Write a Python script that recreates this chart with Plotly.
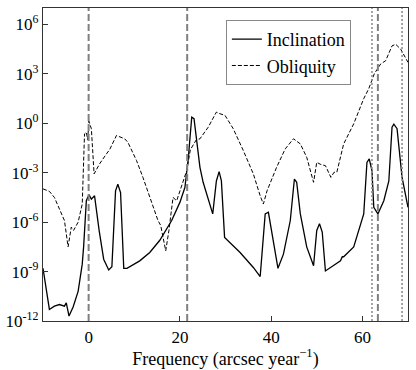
import numpy as np
import plotly.graph_objects as go

# frequencies (arcsec/yr) and log10 of spectral power
inc_freq = [-10, -8.6, -7.5, -6.4, -5.3, -4.9, -4.3, -3.4, -2.3, -1.4, -1.1, -0.5, 0.07, 0.6,
            1.3, 2.3, 3.3, 4.4, 5.1, 5.9, 6.4, 7.0, 7.7, 8.4, 11.2, 13.4, 15.6, 18.2, 20.0,
            21.1, 21.8, 22.6, 23.1, 23.7, 24.4, 25.1, 27.2, 28.0, 28.6, 29.1, 29.8, 33.2,
            36.1, 37.6, 38.7, 39.4, 40.1, 41.5, 42.7, 44.2, 45.1, 45.6, 46.4, 47.8, 49.3,
            50.0, 50.6, 51.2, 51.9, 55.2, 55.6, 55.9, 58.1, 60.3, 61.0, 61.5, 62.1, 62.5,
            63.4, 64.7, 65.8, 66.5, 66.9, 67.6, 68.7, 70.0]
inc_log = [-8.8, -11.3, -11.1, -11.0, -11.1, -10.9, -11.7, -11.15, -10.2, -8.55, -7.5, -4.7,
           -4.33, -4.6, -4.4, -6.5, -8.25, -8.9, -8.7, -4.1, -3.7, -4.2, -8.8, -8.8, -8.35,
           -7.84, -7.1, -5.9, -4.8, -3.9, -2.26, 0.37, 0.28, -1.04, -2.67, -3.58, -5.5, -3.5,
           -2.93, -3.5, -6.93, -7.84, -8.75, -9.3, -5.5, -5.4, -6.5, -8.8, -7.94, -5.9, -3.38,
           -3.58, -5.5, -7.5, -8.65, -6.5, -6.1, -6.6, -8.96, -8.35, -8.1, -8.1, -7.5, -5.5,
           -2.37, -2.16, -2.87, -5.1, -5.5, -4.7, -3.5, -0.24, -0.05, -0.33, -3.28, -5.1]

obl_freq = [-10, -8.6, -7.5, -6.4, -5.3, -4.5, -3.8, -3.3, -2.3, -1.4, -0.9, -0.5, -0.2, 0.05,
            0.6, 1.2, 2.4, 3.9, 4.6, 6.1, 6.95, 7.9, 8.6, 10.5, 11.9, 13.4, 15.2, 15.8, 16.9,
            17.6, 18.5, 19.3, 20.7, 21.5, 22.3, 23.6, 24.4, 26.2, 28.0, 28.6, 29.9, 31.7,
            33.9, 36.1, 37.6, 38.3, 39.1, 41.2, 43.1, 44.9, 46.4, 47.8, 49.3, 50.0, 50.9,
            51.9, 53.1, 53.8, 54.4, 55.9, 58.1, 60.3, 61.4, 62.6, 64.0, 65.1, 66.5, 67.3,
            68.4, 70.0]
obl_log = [-3.98, -4.13, -4.5, -5.2, -5.9, -7.5, -6.3, -6.5, -6.0, -4.9, -0.64, -0.54, -1.0,
           0.13, -0.33, -3.07, -2.46, -1.86, -1.6, -0.74, -0.84, -0.94, -1.15, -2.26, -3.28,
           -4.5, -5.9, -6.2, -7.74, -6.5, -4.5, -4.7, -3.58, -2.87, -1.6, -1.0, -0.94, -0.24,
           0.68, 0.6, 0.48, -0.33, -1.65, -3.07, -4.4, -4.9, -4.1, -2.67, -1.55, -0.94, -1.25,
           -2.06, -3.58, -2.37, -2.5, -2.57, -3.28, -2.97, -2.97, -1.25, -0.03, 1.5, 2.1, 3.0,
           3.6, 3.8, 4.7, 4.8, 4.5, 3.7]

dashed_lines = [0, 21.6, 63.4]
dotted_lines = [62.1, 68.7]

y_tick_exps = [-12, -9, -6, -3, 0, 3, 6]
x_ticks = [0, 20, 40, 60]

FONT = "Liberation Serif, DejaVu Serif, serif"

fig = go.Figure()
fig.add_trace(go.Scatter(x=inc_freq, y=np.power(10.0, inc_log), mode="lines",
                         name="Inclination", line=dict(color="black", width=1.3)))
fig.add_trace(go.Scatter(x=obl_freq, y=np.power(10.0, obl_log), mode="lines",
                         name="Obliquity", line=dict(color="black", width=1, dash="4px,2px")))

for f in dashed_lines:
    fig.add_vline(x=f, line=dict(color="#808080", width=2, dash="7px,3px"))
for f in dotted_lines:
    fig.add_vline(x=f, line=dict(color="#909090", width=1.6, dash="2px,2px"))

fig.update_layout(
    width=416, height=370,
    margin=dict(l=43, r=8, t=8, b=49, autoexpand=False),
    plot_bgcolor="white", paper_bgcolor="white",
    font=dict(family=FONT, size=16, color="black"),
    showlegend=True,
    legend=dict(x=0.501, y=0.962, xanchor="left", yanchor="top",
                bordercolor="#888888", borderwidth=1, bgcolor="white",
                font=dict(size=18), tracegroupgap=0),
    xaxis=dict(range=[-10, 70], tickvals=x_ticks, ticks="inside", ticklen=5,
               tickcolor="#333333", showgrid=False, zeroline=False, automargin=False,
               showline=True, linecolor="#333333", linewidth=1.3, mirror=True,
               tickfont=dict(size=17),
               title=dict(text="Frequency (arcsec year<sup>\u22121</sup>)",
                          font=dict(size=18), standoff=4)),
    yaxis=dict(type="log", range=[-12, 7], automargin=False,
               tickvals=[10.0 ** e for e in y_tick_exps],
               ticktext=["10<sup>%d</sup>" % e for e in y_tick_exps],
               ticks="inside", ticklen=5, tickcolor="#333333", showgrid=False,
               zeroline=False, showline=True, linecolor="#333333", linewidth=1.3,
               mirror=True, tickfont=dict(size=17)),
)

# page has a default body margin; drop it so the figure sits at the window corner
fig.write_html("out.html", config={"displayModeBar": False},
               post_script="document.body.style.margin='0px';")
